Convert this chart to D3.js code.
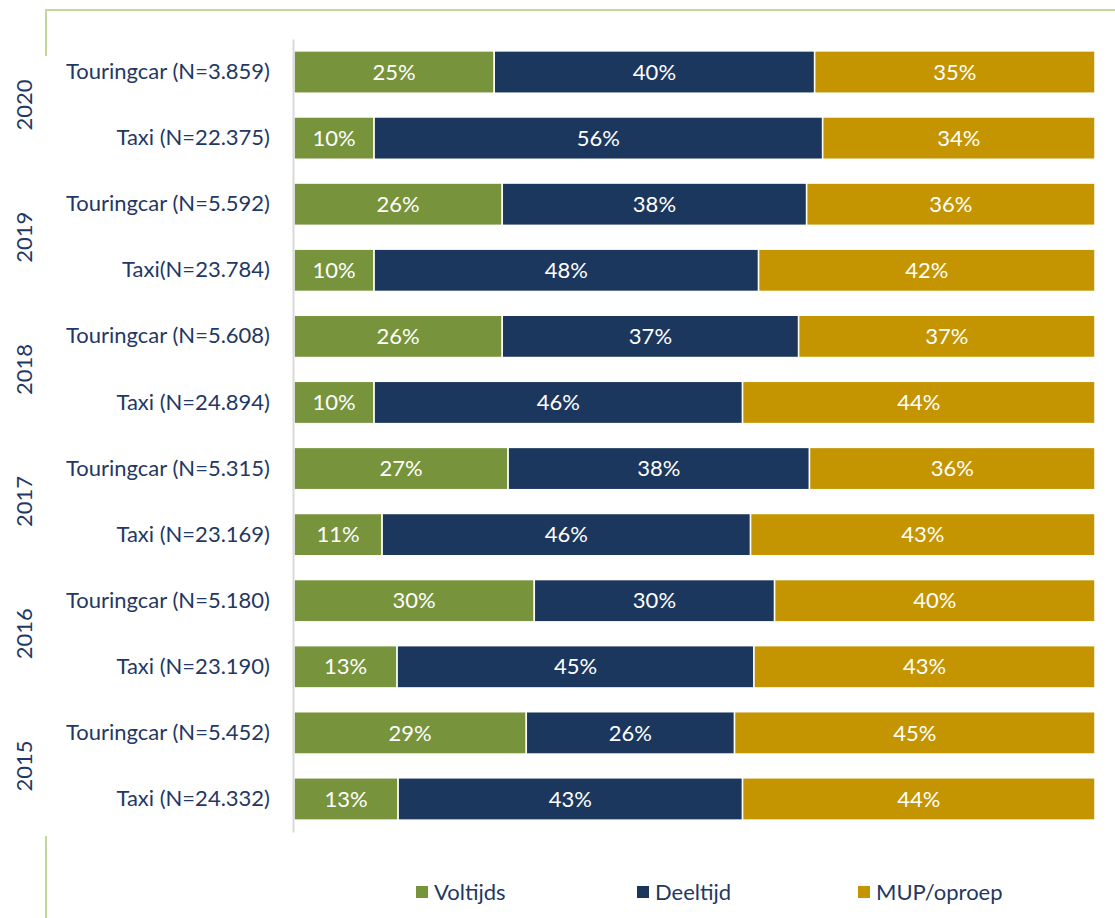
<!DOCTYPE html>
<html>
<head>
<meta charset="utf-8">
<script src="https://cdn.jsdelivr.net/npm/d3@7/dist/d3.min.js"></script>
<style>
  html, body { margin: 0; padding: 0; background: #ffffff; }
  svg { display: block; }
  text { font-family: "Lato", "Noto Sans", sans-serif; }
</style>
</head>
<body>
<svg id="chart" width="1115" height="918"></svg>
<script>
// ---- Data (top to bottom as drawn) ----
const years = ["2020", "2019", "2018", "2017", "2016", "2015"];
const categories = [
  "Touringcar (N=3.859)", "Taxi (N=22.375)",
  "Touringcar (N=5.592)", "Taxi(N=23.784)",
  "Touringcar (N=5.608)", "Taxi (N=24.894)",
  "Touringcar (N=5.315)", "Taxi (N=23.169)",
  "Touringcar (N=5.180)", "Taxi (N=23.190)",
  "Touringcar (N=5.452)", "Taxi (N=24.332)"
];
const seriesNames = ["Voltijds", "Deeltijd", "MUP/oproep"];
const voltijds  = [25, 10, 26, 10, 26, 10, 27, 11, 30, 13, 29, 13];
const deeltijd  = [40, 56, 38, 48, 37, 46, 38, 46, 30, 45, 26, 43];
const mupOproep = [35, 34, 36, 42, 37, 44, 36, 43, 40, 43, 45, 44];
const colors = ["#77933c", "#1b375d", "#c49500"];

// ---- Build table ----
const rows = categories.map((c, i) => ({
  cat: i, label: c,
  "Voltijds": voltijds[i], "Deeltijd": deeltijd[i], "MUP/oproep": mupOproep[i]
}));
const stack = d3.stack().keys(seriesNames).offset(d3.stackOffsetExpand);
const stacked = stack(rows);

const svg = d3.select("#chart");
const x = d3.scaleLinear().domain([0, 1]).range([294, 1095]);
const y = d3.scaleBand().domain(d3.range(categories.length)).range([39, 832]).paddingInner(0.36).paddingOuter(0.18);
const color = d3.scaleOrdinal().domain(seriesNames).range(colors);
const FS = 22;

// frame lines (light green)
const frame = "#c3d69b";
svg.append("line").attr("x1", 45).attr("x2", 1115).attr("y1", 10).attr("y2", 10)
  .attr("stroke", frame).attr("stroke-width", 2);
svg.append("line").attr("x1", 46).attr("x2", 46).attr("y1", 9).attr("y2", 56)
  .attr("stroke", frame).attr("stroke-width", 2);
svg.append("line").attr("x1", 46).attr("x2", 46).attr("y1", 836).attr("y2", 918)
  .attr("stroke", frame).attr("stroke-width", 2);

// bars
const groups = svg.append("g").selectAll("g").data(stacked).join("g")
  .attr("fill", d => color(d.key));
groups.selectAll("rect").data(d => d.map(v => ({v, key: d.key}))).join("rect")
  .attr("x", d => x(d.v[0]))
  .attr("y", d => y(d.v.data.cat))
  .attr("width", d => x(d.v[1]) - x(d.v[0]))
  .attr("height", y.bandwidth())
  .attr("stroke", "#ffffff")
  .attr("stroke-width", 1.5);

// value labels
groups.selectAll("text").data(d => d.map(v => ({v, key: d.key}))).join("text")
  .attr("x", d => (x(d.v[0]) + x(d.v[1])) / 2)
  .attr("y", d => y(d.v.data.cat) + y.bandwidth() / 2)
  .attr("dy", "0.35em")
  .attr("text-anchor", "middle")
  .attr("fill", "#ffffff")
  .attr("font-size", FS)
  .text(d => d.v.data[d.key] + "%");

// category axis
const yAxis = d3.axisLeft(y).tickSize(0).tickPadding(23).tickFormat(i => categories[i]);
const ax = svg.append("g").attr("transform", "translate(293,0)").call(yAxis);
ax.select(".domain").attr("stroke", "#d9d9d9").attr("stroke-width", 2);
ax.selectAll("text").attr("font-size", FS).attr("fill", "#1f3864")
  .style("font-family", "Lato, 'Noto Sans', sans-serif");

// year labels
years.forEach((yr, k) => {
  const cy = (y(2 * k) + y(2 * k + 1) + y.bandwidth()) / 2;
  svg.append("text")
    .attr("transform", `translate(24,${cy}) rotate(-90)`)
    .attr("text-anchor", "middle")
    .attr("dy", "0.35em")
    .attr("font-size", FS)
    .attr("fill", "#1f3864")
    .text(yr);
});

// legend
const legendX = [416, 637, 858];
const lg = svg.append("g").selectAll("g").data(seriesNames).join("g")
  .attr("transform", (d, i) => `translate(${legendX[i]},892)`);
lg.append("rect").attr("x", 0).attr("y", -6).attr("width", 12).attr("height", 12)
  .attr("fill", d => color(d));
lg.append("text").attr("x", 18).attr("dy", "0.35em").attr("font-size", FS)
  .attr("fill", "#1f3864").text(d => d);
</script>
</body>
</html>
